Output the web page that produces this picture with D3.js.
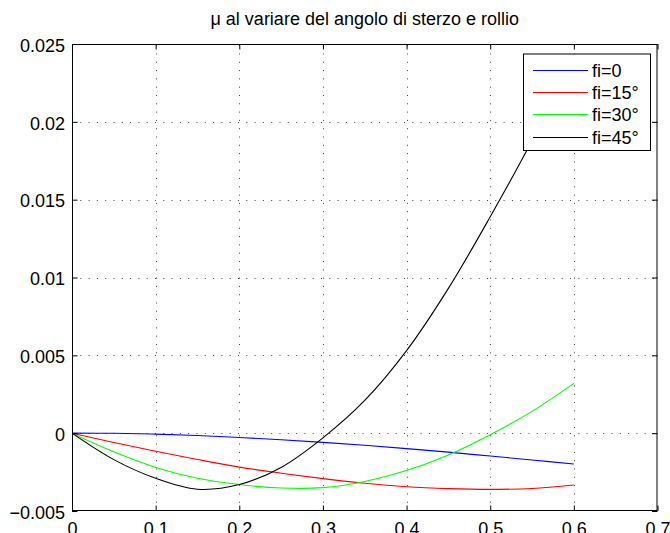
<!DOCTYPE html>
<html>
<head>
<meta charset="utf-8">
<script src="https://cdn.jsdelivr.net/npm/d3@7/dist/d3.min.js"></script>
<style>
  html, body { margin: 0; padding: 0; background: #fff; }
  svg { display: block; }
  text { font-family: "Liberation Sans", Arial, Helvetica, sans-serif; fill: #000; }
</style>
</head>
<body>
<svg id="chart" width="670" height="533"></svg>
<script>
// Steering angle samples (x axis)
const steer = [0, 0.05, 0.1, 0.15, 0.2, 0.25, 0.3, 0.35, 0.4, 0.45, 0.5, 0.55, 0.6];

// mu for each roll angle
const muFi0  = [0, -0.00001, -0.00006, -0.00015, -0.00028, -0.00042, -0.00059, -0.00078, -0.00099, -0.00122, -0.00147, -0.00172, -0.00198];
const muFi15 = [0, -0.0006, -0.00116, -0.00169, -0.00218, -0.00257, -0.00292, -0.00322, -0.00344, -0.00356, -0.00361, -0.00355, -0.00333];
const muFi30 = [0, -0.0012, -0.0022, -0.0029, -0.0033, -0.00352, -0.0035, -0.0031, -0.0024, -0.0014, -0.0001, 0.0014, 0.0032];
const muFi45 = [0, -0.0017, -0.0029, -0.0036, -0.0033, -0.0022, -0.0003, 0.0021, 0.0053, 0.0093, 0.0139, 0.0188, 0.0242];

const seriesNames = ["fi=0", "fi=15°", "fi=30°", "fi=45°"];
const seriesColors = ["#0000ff", "#ff0000", "#00ff00", "#000000"];

const xTicks = [0, 0.1, 0.2, 0.3, 0.4, 0.5, 0.6, 0.7];
const xTickLabels = ["0", "0.1", "0.2", "0.3", "0.4", "0.5", "0.6", "0.7"];
const yTicks = [-0.005, 0, 0.005, 0.01, 0.015, 0.02, 0.025];
const yTickLabels = ["\u22120.005", "0", "0.005", "0.01", "0.015", "0.02", "0.025"];

const titleText = "\u03bc al variare del angolo di sterzo e rollio";

const svg = d3.select("#chart");
const plot = { left: 72, right: 657.5, top: 44, bottom: 511 };

const x = d3.scaleLinear().domain([0, 0.7]).range([plot.left, plot.right]);
const y = d3.scaleLinear().domain([-0.005, 0.025]).range([plot.bottom, plot.top]);

const fontSize = 18;
const tickLen = 5.5;

// clip region for the curves
svg.append("defs").append("clipPath").attr("id", "plotClip")
  .append("rect")
  .attr("x", plot.left).attr("y", plot.top)
  .attr("width", plot.right - plot.left).attr("height", plot.bottom - plot.top);

// dotted grid
const grid = svg.append("g").attr("class", "grid")
  .attr("stroke", "#444").attr("stroke-width", 1).attr("stroke-dasharray", "1,7.3");
xTicks.slice(1, -1).forEach(t => {
  grid.append("line")
    .attr("x1", Math.round(x(t)) + 0.5).attr("x2", Math.round(x(t)) + 0.5)
    .attr("y1", plot.bottom).attr("y2", plot.top);
});
yTicks.slice(1, -1).forEach(t => {
  grid.append("line")
    .attr("x1", plot.left).attr("x2", plot.right)
    .attr("y1", Math.round(y(t)) + 0.5).attr("y2", Math.round(y(t)) + 0.5);
});

// curves
const allSeries = [muFi0, muFi15, muFi30, muFi45];
const line = d3.line()
  .x((d, i) => x(steer[i]))
  .y(d => y(d))
  .curve(d3.curveCatmullRom.alpha(0.5));

const curves = svg.append("g").attr("clip-path", "url(#plotClip)");
allSeries.forEach((vals, k) => {
  curves.append("path")
    .attr("d", line(vals))
    .attr("fill", "none")
    .attr("stroke", seriesColors[k])
    .attr("stroke-width", 1.1);
});

// axes: bottom/left carry labels, top/right only inner ticks
const axB = d3.axisBottom(x).tickValues(xTicks).tickFormat((d, i) => xTickLabels[i])
  .tickSizeInner(-tickLen).tickSizeOuter(0).tickPadding(11.5);
const axT = d3.axisTop(x).tickValues(xTicks).tickFormat("")
  .tickSizeInner(-tickLen).tickSizeOuter(0);
const axL = d3.axisLeft(y).tickValues(yTicks).tickFormat((d, i) => yTickLabels[i])
  .tickSizeInner(-tickLen).tickSizeOuter(0).tickPadding(7);
const axR = d3.axisRight(y).tickValues(yTicks).tickFormat("")
  .tickSizeInner(-tickLen).tickSizeOuter(0);

function styleAxis(g) {
  g.select(".domain").remove();
  g.selectAll(".tick line").attr("stroke", "#000").attr("stroke-width", 1);
  g.selectAll("text").attr("font-size", fontSize)
    .attr("font-family", "'Liberation Sans', Arial, Helvetica, sans-serif")
    .attr("fill", "#000");
}
svg.append("g").attr("transform", `translate(0,${plot.bottom})`).call(axB).call(styleAxis);
svg.append("g").attr("transform", `translate(0,${plot.top})`).call(axT).call(styleAxis);
svg.append("g").attr("transform", `translate(${plot.left},0)`).call(axL).call(styleAxis)
  .selectAll("text").attr("dy", "0.4em");
svg.append("g").attr("transform", `translate(${plot.right},0)`).call(axR).call(styleAxis);

// axes box
svg.append("rect")
  .attr("x", plot.left + 0.5).attr("y", plot.top + 0.5)
  .attr("width", plot.right - plot.left - 1).attr("height", plot.bottom - plot.top - 1)
  .attr("fill", "none").attr("stroke", "#000").attr("stroke-width", 1);

// title
svg.append("text")
  .attr("x", (plot.left + plot.right) / 2).attr("y", 25)
  .attr("text-anchor", "middle")
  .attr("font-size", fontSize)
  .text(titleText);

// legend
const leg = { x: 523, y: 53.5, w: 127, h: 96.5 };
const legend = svg.append("g");
legend.append("rect")
  .attr("x", leg.x + 0.5).attr("y", leg.y + 0.5)
  .attr("width", leg.w).attr("height", leg.h)
  .attr("fill", "#fff").attr("stroke", "#000").attr("stroke-width", 1);
seriesNames.forEach((name, k) => {
  const cy = Math.round(leg.y + 16 + k * 22.4) + 0.5;
  legend.append("line")
    .attr("x1", leg.x + 10).attr("x2", leg.x + 65)
    .attr("y1", cy).attr("y2", cy)
    .attr("stroke", seriesColors[k]).attr("stroke-width", 1);
  legend.append("text")
    .attr("x", leg.x + 69).attr("y", cy)
    .attr("dy", "0.35em")
    .attr("font-size", fontSize)
    .text(name);
});
</script>
</body>
</html>
